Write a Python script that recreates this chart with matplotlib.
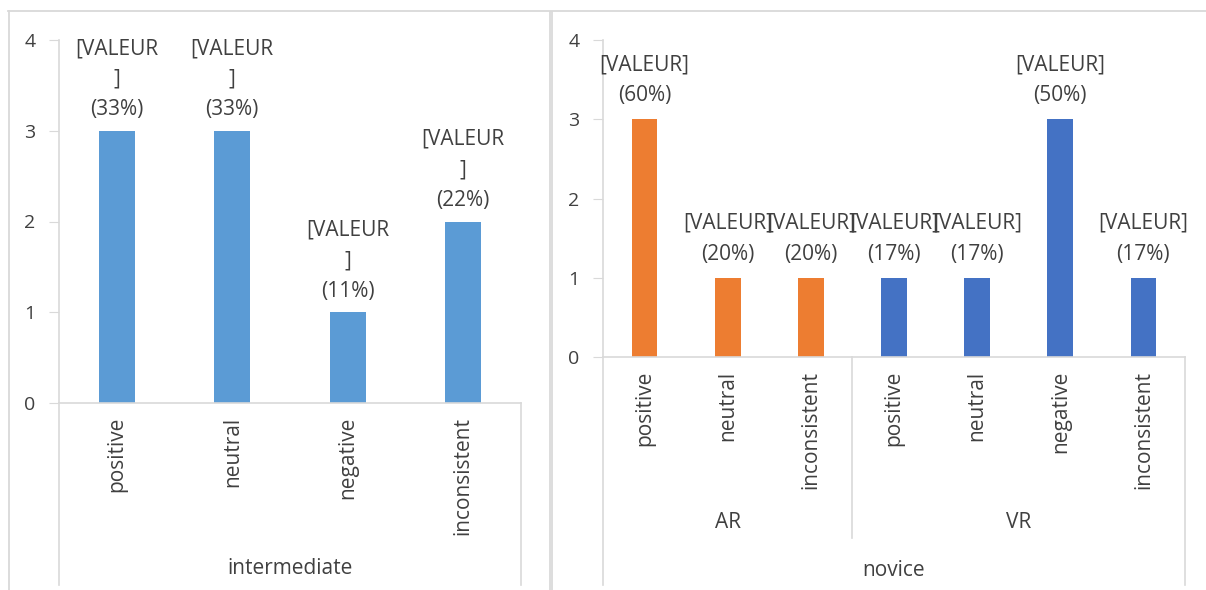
import matplotlib
matplotlib.use("Agg")
import matplotlib.pyplot as plt
from matplotlib.lines import Line2D
from matplotlib.patches import Rectangle
import matplotlib.transforms as mtrans

# data
inter_cats = ['positive', 'neutral', 'negative', 'inconsistent']
inter_vals = [3, 3, 1, 2]
inter_pct = ['33%', '33%', '11%', '22%']

novice_cats = ['positive', 'neutral', 'inconsistent', 'positive', 'neutral', 'negative', 'inconsistent']
novice_groups = ['AR', 'AR', 'AR', 'VR', 'VR', 'VR', 'VR']
novice_vals = [3, 1, 1, 1, 1, 3, 1]
novice_pct = ['60%', '20%', '20%', '17%', '17%', '50%', '17%']

W, H = 1206, 590
TXT = '#404040'
GRID = '#D9D9D9'
FS = 15
TFS = 14
plt.rcParams['font.family'] = ['Open Sans', 'DejaVu Sans']

fig = plt.figure(figsize=(W / 100, H / 100), dpi=100)


def px_axes(x0, x1, y_top, y_bot):
    return fig.add_axes([x0 / W, 1 - y_bot / H, (x1 - x0) / W, (y_bot - y_top) / H])


def fy(p):
    return 1 - p / H


def style(ax, n):
    ax.set_xlim(-0.5, n - 0.5)
    ax.set_ylim(0, 4)
    for s in ['top', 'right']:
        ax.spines[s].set_visible(False)
    for s in ['left', 'bottom']:
        ax.spines[s].set_color(GRID)
        ax.spines[s].set_linewidth(1.2)
    ax.set_yticks([0, 1, 2, 3, 4])
    ax.tick_params(axis='y', length=7, color=GRID, labelcolor=TXT, labelsize=TFS, pad=10)
    ax.tick_params(axis='x', length=0, labelcolor=TXT, labelsize=FS, pad=10)


# ---- left chart: intermediate ----
ax1 = px_axes(59, 521, 40, 403)
x1 = range(len(inter_cats))
ax1.bar(x1, inter_vals, width=0.31, color='#5B9BD5')
style(ax1, len(inter_cats))
ax1.set_xticks(list(x1))
ax1.set_xticklabels(inter_cats, rotation=90, va='top')
for i, (v, p) in enumerate(zip(inter_vals, inter_pct)):
    ax1.annotate('[VALEUR\n]\n(' + p + ')', (i, v), xytext=(0, 7.5), textcoords='offset points',
                 ha='center', va='bottom', color=TXT, fontsize=FS, linespacing=1.6)
tr1 = mtrans.blended_transform_factory(ax1.transData, fig.transFigure)
for xe in [-0.5, len(inter_cats) - 0.5]:
    fig.add_artist(Line2D([xe, xe], [fy(403), fy(585)], transform=tr1, color=GRID, lw=1.2))
fig.text(0.5 * (59 + 521) / W, fy(568), 'intermediate', ha='center', va='center', color=TXT, fontsize=FS)

# ---- right chart: novice ----
ax2 = px_axes(603, 1185, 40, 357)
x2 = range(len(novice_cats))
cols = ['#ED7D31' if g == 'AR' else '#4472C4' for g in novice_groups]
ax2.bar(x2, novice_vals, width=0.31, color=cols)
style(ax2, len(novice_cats))
ax2.set_xticks(list(x2))
ax2.set_xticklabels(novice_cats, rotation=90, va='top')
for i, (v, p) in enumerate(zip(novice_vals, novice_pct)):
    ax2.annotate('[VALEUR]\n(' + p + ')', (i, v), xytext=(0, 9.5), textcoords='offset points',
                 ha='center', va='bottom', color=TXT, fontsize=FS, linespacing=1.6)
tr2 = mtrans.blended_transform_factory(ax2.transData, fig.transFigure)
n_ar = novice_groups.count('AR')
fig.add_artist(Line2D([-0.5, -0.5], [fy(357), fy(585)], transform=tr2, color=GRID, lw=1.2))
fig.add_artist(Line2D([len(novice_cats) - 0.5] * 2, [fy(357), fy(585)], transform=tr2, color=GRID, lw=1.2))
fig.add_artist(Line2D([n_ar - 0.5] * 2, [fy(357), fy(538)], transform=tr2, color=GRID, lw=1.2))
fig.text((n_ar - 1) / 2, fy(523), 'AR', transform=tr2, ha='center', va='center', color=TXT, fontsize=FS)
fig.text((n_ar + len(novice_cats) - 1) / 2, fy(523), 'VR', transform=tr2, ha='center', va='center', color=TXT, fontsize=FS)
fig.text((len(novice_cats) - 1) / 2, fy(571), 'novice', transform=tr2, ha='center', va='center', color=TXT, fontsize=FS)

# ---- chart frames ----
fig.add_artist(Line2D([8 / W, 1], [fy(11), fy(11)], color=GRID, lw=1.3))
fig.add_artist(Line2D([8.5 / W, 8.5 / W], [fy(11), 0], color=GRID, lw=1.3))
fig.add_artist(Rectangle((549 / W, 0), 4 / W, fy(11), color='#DDDDDD', lw=0))

fig.savefig('out.png', dpi=100)
